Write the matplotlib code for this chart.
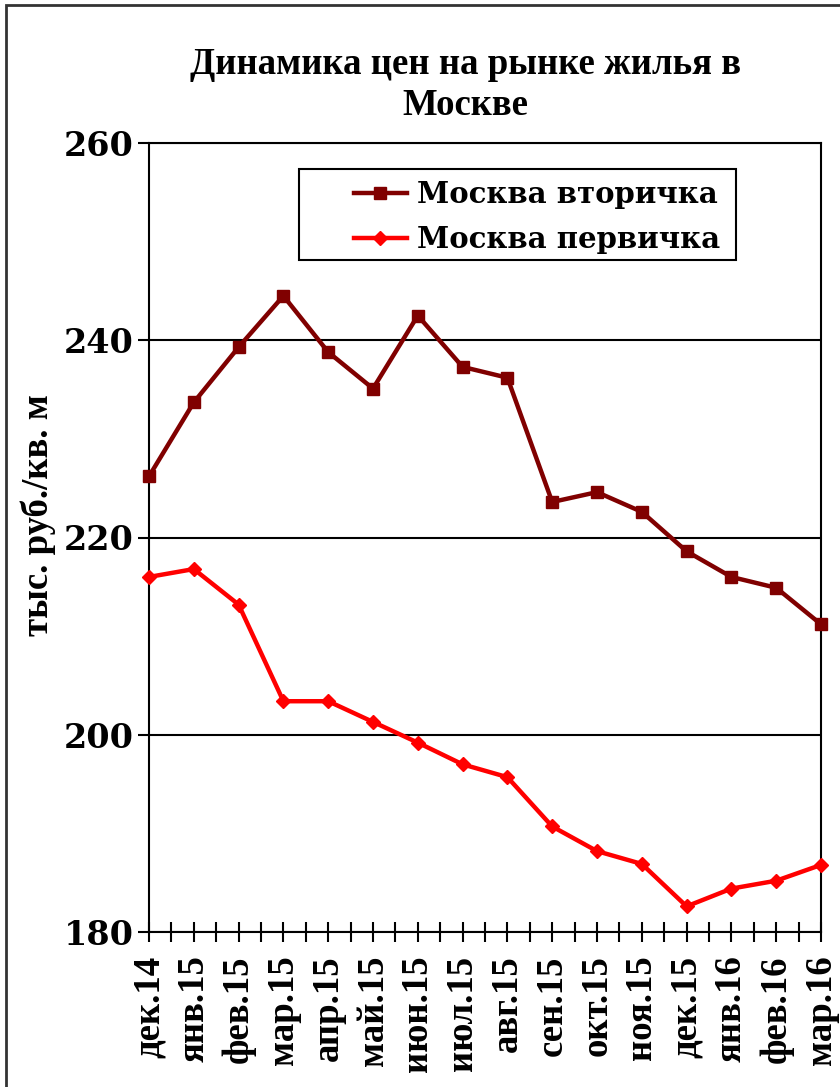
import matplotlib
matplotlib.use("Agg")
import matplotlib.pyplot as plt
from matplotlib.patches import Rectangle
from matplotlib.ticker import MultipleLocator
import numpy as np

TIMES = ['Liberation Serif', 'DejaVu Serif']
WIDE = ['DejaVu Serif']

# month labels and prices, thousand rub. per sq. m
months = ['дек.14', 'янв.15', 'фев.15', 'мар.15', 'апр.15', 'май.15',
          'июн.15', 'июл.15', 'авг.15', 'сен.15', 'окт.15', 'ноя.15',
          'дек.15', 'янв.16', 'фев.16', 'мар.16']
secondary = [226.2, 233.7, 239.3, 244.5, 238.8, 235.1, 242.5, 237.3,
             236.2, 223.6, 224.6, 222.6, 218.6, 216.0, 214.9, 211.2]
primary = [216.0, 216.8, 213.2, 203.4, 203.4, 201.3, 199.2, 197.0,
           195.7, 190.7, 188.2, 186.9, 182.6, 184.4, 185.2, 186.8]
yticks = [180, 200, 220, 240, 260]

fig = plt.figure(figsize=(8.4, 10.87), dpi=100)
ax = fig.add_axes([149/840, 1 - 932/1087, 672/840, 789/1087])

x = np.arange(len(months))
ax.plot(x, secondary, color='#800000', lw=3.2, marker='s', ms=8.5,
        label='Москва вторичка', clip_on=False, zorder=4)
ax.plot(x, primary, color='#ff0000', lw=3.2, marker='D', ms=7.5,
        label='Москва первичка', clip_on=False, zorder=4)

ax.set_xlim(0, len(months) - 1)
ax.set_ylim(180, 260)
ax.set_yticks(yticks)
ax.set_yticklabels([str(v) for v in yticks], fontsize=24,
                   family=WIDE, fontweight='bold')
ax.set_xticks(x)
ax.set_xticklabels(months, rotation=90, fontsize=26.5,
                   family=TIMES, fontweight='bold')
ax.xaxis.set_minor_locator(MultipleLocator(0.5))
ax.tick_params(axis='x', which='both', direction='inout', length=14,
               width=1.5, pad=10)
ax.tick_params(axis='y', direction='out', length=8, width=1.5, pad=3)
ax.grid(axis='y', color='black', lw=1.5)
ax.set_axisbelow(True)
for s in ax.spines.values():
    s.set_linewidth(1.5)

ax.set_ylabel('тыс. руб./кв. м', fontsize=26.5, family=TIMES,
              fontweight='bold')
ax.yaxis.set_label_coords((56 - 149)/672, (932 - 515)/789)

# legend without its own frame, box drawn separately
leg = ax.legend(loc='upper left', bbox_to_anchor=(205/672, 1 - 37/789),
                prop={'family': WIDE, 'weight': 'bold', 'size': 21},
                frameon=False, handlelength=1.8, borderpad=0,
                borderaxespad=0, labelspacing=0.55, handletextpad=0.35)
ax.add_patch(Rectangle(((299-149)/672, (932-260)/789), 437/672, 91/789,
                       transform=ax.transAxes, fill=False,
                       edgecolor='black', lw=1.5, zorder=5))

fig.text(465/840, 1 - 85/1087, 'Динамика цен на рынке жилья в\nМоскве',
         ha='center', va='center', fontsize=26.5, linespacing=1.22,
         family=TIMES, fontweight='bold')

fig.patches.append(Rectangle((6/840, -0.1), 1.2, 1 - 5/1087 + 0.1,
                             transform=fig.transFigure, fill=False,
                             edgecolor='#333333', lw=2))

fig.savefig('out.png', dpi=100)
